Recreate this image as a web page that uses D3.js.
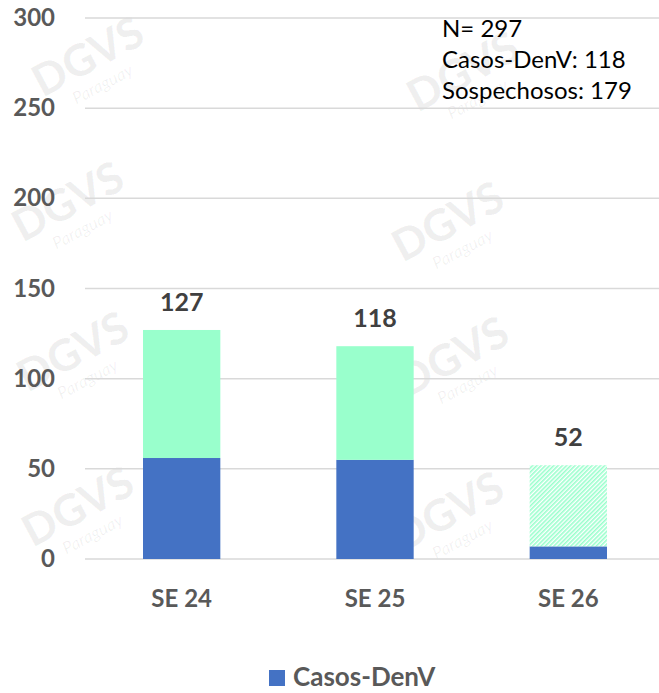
<!DOCTYPE html>
<html>
<head>
<meta charset="utf-8">
<script src="https://cdn.jsdelivr.net/npm/d3@7"></script>
<style>
  body { margin: 0; background: #fff; }
  text { font-family: Lato, "Open Sans", sans-serif; }
</style>
</head>
<body>
<div id="chart"></div>
<script>
// data
var categories = ["SE 24", "SE 25", "SE 26"];
var casosDenV = [56, 55, 7];
var sospechosos = [71, 63, 45];
var yTicks = [0, 50, 100, 150, 200, 250, 300];
var notes = ["N= 297", "Casos-DenV: 118", "Sospechosos: 179"];
var partialWeek = "SE 26";   // last week drawn hatched

var width = 659;
var height = 693;
var svg = d3.select("#chart")
    .append("svg")
    .attr("width", width)
    .attr("height", height);

var margin = ({top: 18, right: -6, bottom: 134, left: 85});

var x = d3.scaleBand()
    .domain(categories)
    .range([margin.left, width - margin.right])
    .paddingInner(0.6)
    .paddingOuter(0.3);
var y = d3.scaleLinear().domain([0, 300]).range([height - margin.bottom, margin.top]);

// hatch pattern
var defs = svg.append("defs");
var pat = defs.append("pattern")
    .attr("id", "hatch")
    .attr("patternUnits", "userSpaceOnUse")
    .attr("width", 3)
    .attr("height", 3)
    .attr("patternTransform", "rotate(45)");
pat.append("rect").attr("width", 3).attr("height", 3).attr("fill", "#fff");
pat.append("rect").attr("width", 1.6).attr("height", 3).attr("fill", "#99ffcc");

// watermarks (faint logo text)
var marks = [[95, 70], [470, 85], [75, 215], [455, 235], [80, 365], [460, 370], [85, 520], [455, 525]];
marks.forEach(function(m) {
  var g = svg.append("g").attr("transform", "translate(" + m[0] + "," + m[1] + ") rotate(-28)");
  g.append("text").attr("text-anchor", "middle")
    .style("font-size", "44px").style("font-weight", "900")
    .attr("fill", "#000").attr("fill-opacity", 0.06)
    .text("DGVS");
  g.append("text").attr("text-anchor", "middle").attr("y", 22)
    .style("font-size", "17px").style("font-style", "italic")
    .attr("fill", "#000").attr("fill-opacity", 0.06)
    .text("Paraguay");
});

// gridlines
svg.append("g")
    .selectAll("line")
    .data(yTicks)
    .join("line")
    .attr("x1", margin.left)
    .attr("x2", width)
    .attr("y1", function(d) { return y(d); })
    .attr("y2", function(d) { return y(d); })
    .attr("stroke", "#d9d9d9")
    .attr("stroke-width", 1.5);

// y labels
svg.append("g")
    .selectAll("text")
    .data(yTicks)
    .join("text")
    .attr("x", 55)
    .attr("y", function(d) { return y(d) + 8; })
    .attr("text-anchor", "end")
    .style("font-size", "24px")
    .style("font-weight", "bold")
    .attr("fill", "#595959")
    .text(function(d) { return d; });

// stacked bars
var bars = svg.append("g");
categories.forEach(function(c, i) {
  var total = casosDenV[i] + sospechosos[i];
  bars.append("rect")
    .attr("x", x(c))
    .attr("width", x.bandwidth())
    .attr("y", y(casosDenV[i]))
    .attr("height", y(0) - y(casosDenV[i]))
    .attr("fill", "#4472c4");
  bars.append("rect")
    .attr("x", x(c))
    .attr("width", x.bandwidth())
    .attr("y", y(total))
    .attr("height", y(casosDenV[i]) - y(total))
    .attr("fill", c === partialWeek ? "url(#hatch)" : "#99ffcc");
  bars.append("text")
    .attr("x", x(c) + x.bandwidth() / 2)
    .attr("y", y(total) - 19)
    .attr("text-anchor", "middle")
    .style("font-size", "25px")
    .style("font-weight", "bold")
    .attr("fill", "#404040")
    .text(total);
});

// x labels
svg.append("g")
    .selectAll("text")
    .data(categories)
    .join("text")
    .attr("x", function(d) { return x(d) + x.bandwidth() / 2; })
    .attr("y", y(0) + 48)
    .attr("text-anchor", "middle")
    .style("font-size", "24px")
    .style("font-weight", "bold")
    .attr("fill", "#595959")
    .text(function(d) { return d; });

// note box
svg.append("g")
    .selectAll("text")
    .data(notes)
    .join("text")
    .attr("x", 442)
    .attr("y", function(d, i) { return 37 + i * 31; })
    .style("font-size", "24px")
    .attr("fill", "#000")
    .text(function(d) { return d; });

// legend
svg.append("rect")
    .attr("x", 269)
    .attr("y", 670)
    .attr("width", 16)
    .attr("height", 16)
    .attr("fill", "#4472c4");
svg.append("text")
    .attr("x", 293)
    .attr("y", 686)
    .style("font-size", "26px")
    .style("font-weight", "bold")
    .attr("fill", "#595959")
    .text("Casos-DenV");
</script>
</body>
</html>
